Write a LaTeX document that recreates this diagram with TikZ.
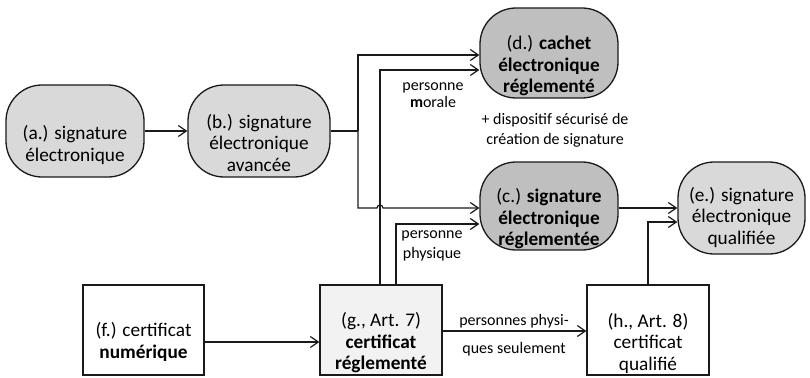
\documentclass[tikz,border=0pt]{standalone}
\usepackage{fontspec}
\setmainfont{Carlito}
\usetikzlibrary{arrows.meta,calc}
\definecolor{lightfill}{HTML}{D9D9D9}
\definecolor{darkfill}{HTML}{BFBFBF}
\definecolor{palefill}{HTML}{F2F2F2}
\definecolor{ink}{HTML}{1A1A1A}
\tikzset{
  roundbox/.style={draw=ink, line width=1.3pt, rounded corners=36pt, inner sep=0pt},
  squarebox/.style={draw=ink, line width=1.3pt, inner sep=0pt},
  boxtext/.style={align=center, inner sep=0pt, font=\fontsize{19.3}{21.5}\selectfont},
  smalltext/.style={align=center, inner sep=0pt, font=\fontsize{16}{20}\selectfont},
  conn/.style={draw=ink, line width=1.2pt},
  arr/.style={conn, -{Straight Barb[length=8pt,width=11pt]}},
}
\begin{document}
\begin{tikzpicture}[x=1pt,y=-1pt]
\useasboundingbox (0,0) rectangle (810,377);

% boxes
\node[roundbox, fill=lightfill, minimum width=138pt, minimum height=92pt] (a) at (75,131) {};
\node[roundbox, fill=lightfill, minimum width=142pt, minimum height=92pt] (b) at (259,131) {};
\node[roundbox, fill=darkfill, minimum width=138pt, minimum height=90pt] (d) at (549,53) {};
\node[roundbox, fill=darkfill, minimum width=138pt, minimum height=88pt] (c) at (549,206) {};
\node[roundbox, fill=lightfill, minimum width=127pt, minimum height=92pt] (e) at (741.5,208) {};
\node[squarebox, fill=white, minimum width=121pt, minimum height=90pt] (f) at (143.5,330) {};
\node[squarebox, fill=palefill, minimum width=122pt, minimum height=90pt] (g) at (381,330) {};
\node[squarebox, fill=white, minimum width=122pt, minimum height=90pt] (h) at (648,330) {};

% box texts
\node[boxtext] (a-txt) at ($(a.center)+(0,14)$) {(a.) signature\\électronique};
\node[boxtext] (b-txt) at ($(b.center)+(0,12)$) {(b.) signature\\électronique\\avancée};
\node[boxtext] (d-txt) at ($(d.center)+(0,13)$) {(d.) \textbf{cachet}\\\textbf{électronique}\\\textbf{réglementé}};
\node[boxtext] (c-txt) at ($(c.center)+(0,13)$) {(c.) \textbf{signature}\\\textbf{électronique}\\\textbf{réglementée}};
\node[boxtext] (e-txt) at ($(e.center)+(0,9)$) {(e.) signature\\électronique\\qualifiée};
\node[boxtext] (f-txt) at ($(f.center)+(0,12)$) {(f.) certificat\\\textbf{numérique}};
\node[boxtext] (g-txt) at ($(g.center)+(0,13)$) {(g., Art. 7)\\\textbf{certificat}\\\textbf{réglementé}};
\node[boxtext] (h-txt) at ($(h.center)+(0,13)$) {(h., Art. 8)\\certificat\\qualifié};

% junction points
\coordinate (j1) at (358,131);
\coordinate (din1) at ($(d.west)+(0,2)$);
\coordinate (din2) at ($(d.west)+(0,17)$);
\coordinate (cin1) at ($(c.west)+(0,2)$);
\coordinate (cin2) at ($(c.west)+(0,18)$);
\coordinate (gout1) at ($(g.north)+(-1,0)$);
\coordinate (gout2) at ($(g.north)+(15,0)$);
\coordinate (ein2) at ($(e.west)+(0,14)$);

% connectors
\draw[arr] (a.east) -- (b.west);
\draw[conn] (b.east) -- (j1);
\draw[arr] (j1) |- (din1);
\draw[arr] (j1) -- (j1 |- cin1) -- ($(gout1 |- cin1)+(-3,0)$)
  arc[start angle=180, end angle=360, radius=3] -- (cin1);
\draw[arr] (gout1) |- (din2);
\draw[arr] (gout2) |- (cin2);
\draw[arr] (cin1 -| c.east) -- (cin1 -| e.west);
\draw[arr] (h.north) |- (ein2);
\draw[arr] ($(f.east)+(0,12)$) -- ($(g.west)+(0,12)$);
\draw[arr] ($(g.east)+(0,1)$) -- ($(h.west)+(0,1)$);

% connector labels
\node[smalltext, font=\fontsize{16}{16.5}\selectfont] (morale) at (433,95) {personne\\\textbf{m}orale};
\node[smalltext] (physique) at (432,246) {personne\\physique};
\node[smalltext] (dispositif) at (555,130) {+ dispositif sécurisé de\\création de signature};
\node[smalltext, font=\fontsize{16}{28}\selectfont] (seulement) at (514,335) {personnes physi-\\ques seulement};
\end{tikzpicture}
\end{document}
